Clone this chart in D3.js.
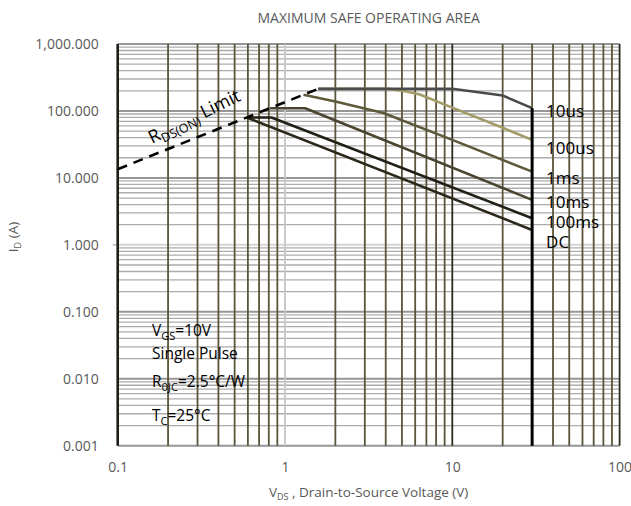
<!DOCTYPE html>
<html>
<head>
<meta charset="utf-8">
<script src="https://cdn.jsdelivr.net/npm/d3@7"></script>
<style>
  body { margin: 0; background: #fff; }
  text { font-family: "Open Sans", "Noto Sans", sans-serif; }
</style>
</head>
<body>
<svg id="chart" width="631" height="506"></svg>
<script>
// Axis ticks
const xTickValues = [0.1, 1, 10, 100];
const yTickValues = [0.001, 0.01, 0.1, 1, 10, 100, 1000];

// Safe operating area boundaries: drain-source voltage (V) and drain current (A)
const seriesNames = ["10us", "100us", "1ms", "10ms", "100ms", "DC"];
const vds10us  = [1.58, 10, 20, 30];
const id10us   = [214, 214, 170, 110];
const vds100us = [1.58, 4.2, 5.3, 6.4, 10, 20, 30];
const id100us  = [214, 214, 195, 176, 112, 56, 37];
const vds1ms   = [1.29, 2, 3.87, 10, 30];
const id1ms    = [174, 138, 93, 37, 12.4];
const vds10ms  = [0.813, 1.32, 30];
const id10ms   = [110, 110, 4.7];
const vds100ms = [0.59, 0.83, 30];
const id100ms  = [80, 80, 2.5];
const vdsDC    = [0.59, 30];
const idDC     = [80, 1.67];

// RDS(ON) limit line and the VDS maximum boundary
const vdsRdsLimit = [0.1, 1.58];
const idRdsLimit  = [13.5, 214];
const vdsMaxLine  = [30, 30];
const idMaxLine   = [110, 0.001];

const seriesVds = [vds10us, vds100us, vds1ms, vds10ms, vds100ms, vdsDC];
const seriesId  = [id10us, id100us, id1ms, id10ms, id100ms, idDC];
const seriesColors = ["#4a4a4a", "#a39b68", "#5f593b", "#4a4530", "#221f15", "#2b2719"];
// vertical nudges of the end labels relative to each curve's end point
const labelNudge = [2, 8, 5.5, 2, 3.5, 12];

const svg = d3.select("#chart");
const plot = { left: 117.7, right: 619.6, top: 44, bottom: 445.7 };

const x = d3.scaleLog().domain([0.1, 100]).range([plot.left, plot.right]);
const y = d3.scaleLog().domain([0.001, 1000]).range([plot.bottom, plot.top]);

const isDecade = v => Math.abs(Math.log10(v) - Math.round(Math.log10(v))) < 1e-9;
const near = (a, b) => Math.abs(a - b) < 1e-9;

// horizontal grid
svg.append("g").selectAll("line")
  .data(y.ticks())
  .join("line")
  .attr("x1", plot.left).attr("x2", plot.right)
  .attr("y1", d => y(d)).attr("y2", d => y(d))
  .attr("stroke", d => isDecade(d) ? (near(d, 1) ? "#d4d4d4" : "#969696") : "#acacac")
  .attr("stroke-width", d => isDecade(d) ? 2 : 1.3);

// small tick at the 1 A gridline on the left edge
svg.append("line")
  .attr("x1", plot.left - 5).attr("x2", plot.left)
  .attr("y1", y(1)).attr("y2", y(1))
  .attr("stroke", "#c8c8c8").attr("stroke-width", 2);

// vertical grid
svg.append("g").selectAll("line")
  .data(x.ticks())
  .join("line")
  .attr("x1", d => x(d)).attr("x2", d => x(d))
  .attr("y1", plot.top).attr("y2", plot.bottom)
  .attr("stroke", d => {
    if (!isDecade(d)) return "#5a543a";
    if (near(d, 1)) return "#c6c6c6";
    if (near(d, 0.1)) return "#201d16";
    return "#2e2a1d";
  })
  .attr("stroke-width", d => near(d, 0.1) ? 2.6 : 1.8);

// axes (labels only)
const xAxis = d3.axisBottom(x).tickValues(xTickValues).tickSize(0).tickPadding(0)
  .tickFormat(d => d3.format("")(d));
const gx = svg.append("g").attr("transform", `translate(0,${plot.bottom})`).call(xAxis);
gx.select(".domain").remove();
gx.selectAll("text").attr("dy", null).attr("y", 26)
  .attr("fill", "#595959").style("font-size", "14px").style("font-family", "'Open Sans', sans-serif");

const yAxis = d3.axisLeft(y).tickValues(yTickValues).tickSize(0).tickPadding(19)
  .tickFormat(d3.format(",.3f"));
const gy = svg.append("g").attr("transform", `translate(${plot.left},0)`).call(yAxis);
gy.select(".domain").remove();
gy.selectAll("text").attr("fill", "#595959").style("font-size", "14px")
  .style("font-family", "'Open Sans', sans-serif");

const line = d3.line().x(d => x(d[0])).y(d => y(d[1]));

// curves, DC first so shorter pulses sit on top
const order = [5, 4, 3, 2, 1, 0];
order.forEach(i => {
  const pts = d3.zip(seriesVds[i], seriesId[i]);
  svg.append("path")
    .attr("d", line(pts))
    .attr("fill", "none")
    .attr("stroke", seriesColors[i])
    .attr("stroke-width", 2.6)
    .attr("stroke-linejoin", "round");
});

// RDS(ON) limit
svg.append("path")
  .attr("d", line(d3.zip(vdsRdsLimit, idRdsLimit)))
  .attr("fill", "none").attr("stroke", "#000").attr("stroke-width", 2.6)
  .attr("stroke-dasharray", "10,7");

// VDS max boundary
svg.append("path")
  .attr("d", line(d3.zip(vdsMaxLine, idMaxLine)))
  .attr("fill", "none").attr("stroke", "#000").attr("stroke-width", 3);

// curve end labels
seriesNames.forEach((name, i) => {
  const vs = seriesVds[i], is = seriesId[i];
  svg.append("text")
    .attr("x", x(vs[vs.length - 1]) + 14)
    .attr("y", y(is[is.length - 1]) + labelNudge[i])
    .attr("dominant-baseline", "central")
    .attr("fill", "#000")
    .style("font-size", "17px")
    .text(name);
});

// title
svg.append("text")
  .attr("x", (plot.left + plot.right) / 2).attr("y", 17)
  .attr("text-anchor", "middle").attr("dominant-baseline", "central")
  .attr("fill", "#595959").style("font-size", "14px")
  .text("MAXIMUM SAFE OPERATING AREA");

// x axis title
const xt = svg.append("text")
  .attr("x", (plot.left + plot.right) / 2).attr("y", 497)
  .attr("text-anchor", "middle")
  .attr("fill", "#595959").style("font-size", "13.5px");
xt.append("tspan").text("V");
xt.append("tspan").attr("dy", 3).style("font-size", "9px").text("DS");
xt.append("tspan").attr("dy", -3).text(" , Drain-to-Source Voltage (V)");

// y axis title
const yt = svg.append("text")
  .attr("transform", "translate(18,237) rotate(-90)")
  .attr("text-anchor", "middle")
  .attr("fill", "#595959").style("font-size", "13.5px");
yt.append("tspan").text("I");
yt.append("tspan").attr("dy", 3).style("font-size", "9px").text("D");
yt.append("tspan").attr("dy", -3).text(" (A)");

// RDS(ON) limit label
const rl = svg.append("text")
  .attr("transform", "translate(152,144) rotate(-26)")
  .attr("fill", "#000").style("font-size", "18px");
rl.append("tspan").text("R");
rl.append("tspan").attr("dy", 4).style("font-size", "12.5px").text("DS(ON)");
rl.append("tspan").attr("dy", -4).text(" Limit");

// test conditions
const notes = svg.append("g").attr("fill", "#000").style("font-size", "15.5px");
const n1 = notes.append("text").attr("x", 152).attr("y", 336);
n1.append("tspan").text("V");
n1.append("tspan").attr("dy", 4).style("font-size", "11px").text("GS");
n1.append("tspan").attr("dy", -4).text("=10V");
notes.append("text").attr("x", 152).attr("y", 359).text("Single Pulse");
const n3 = notes.append("text").attr("x", 152).attr("y", 387);
n3.append("tspan").text("R");
n3.append("tspan").attr("dy", 4).style("font-size", "11px").text("θJC");
n3.append("tspan").attr("dy", -4).text("=2.5°C/W");
const n4 = notes.append("text").attr("x", 152).attr("y", 421);
n4.append("tspan").text("T");
n4.append("tspan").attr("dy", 4).style("font-size", "11px").text("C");
n4.append("tspan").attr("dy", -4).text("=25°C");
</script>
</body>
</html>
